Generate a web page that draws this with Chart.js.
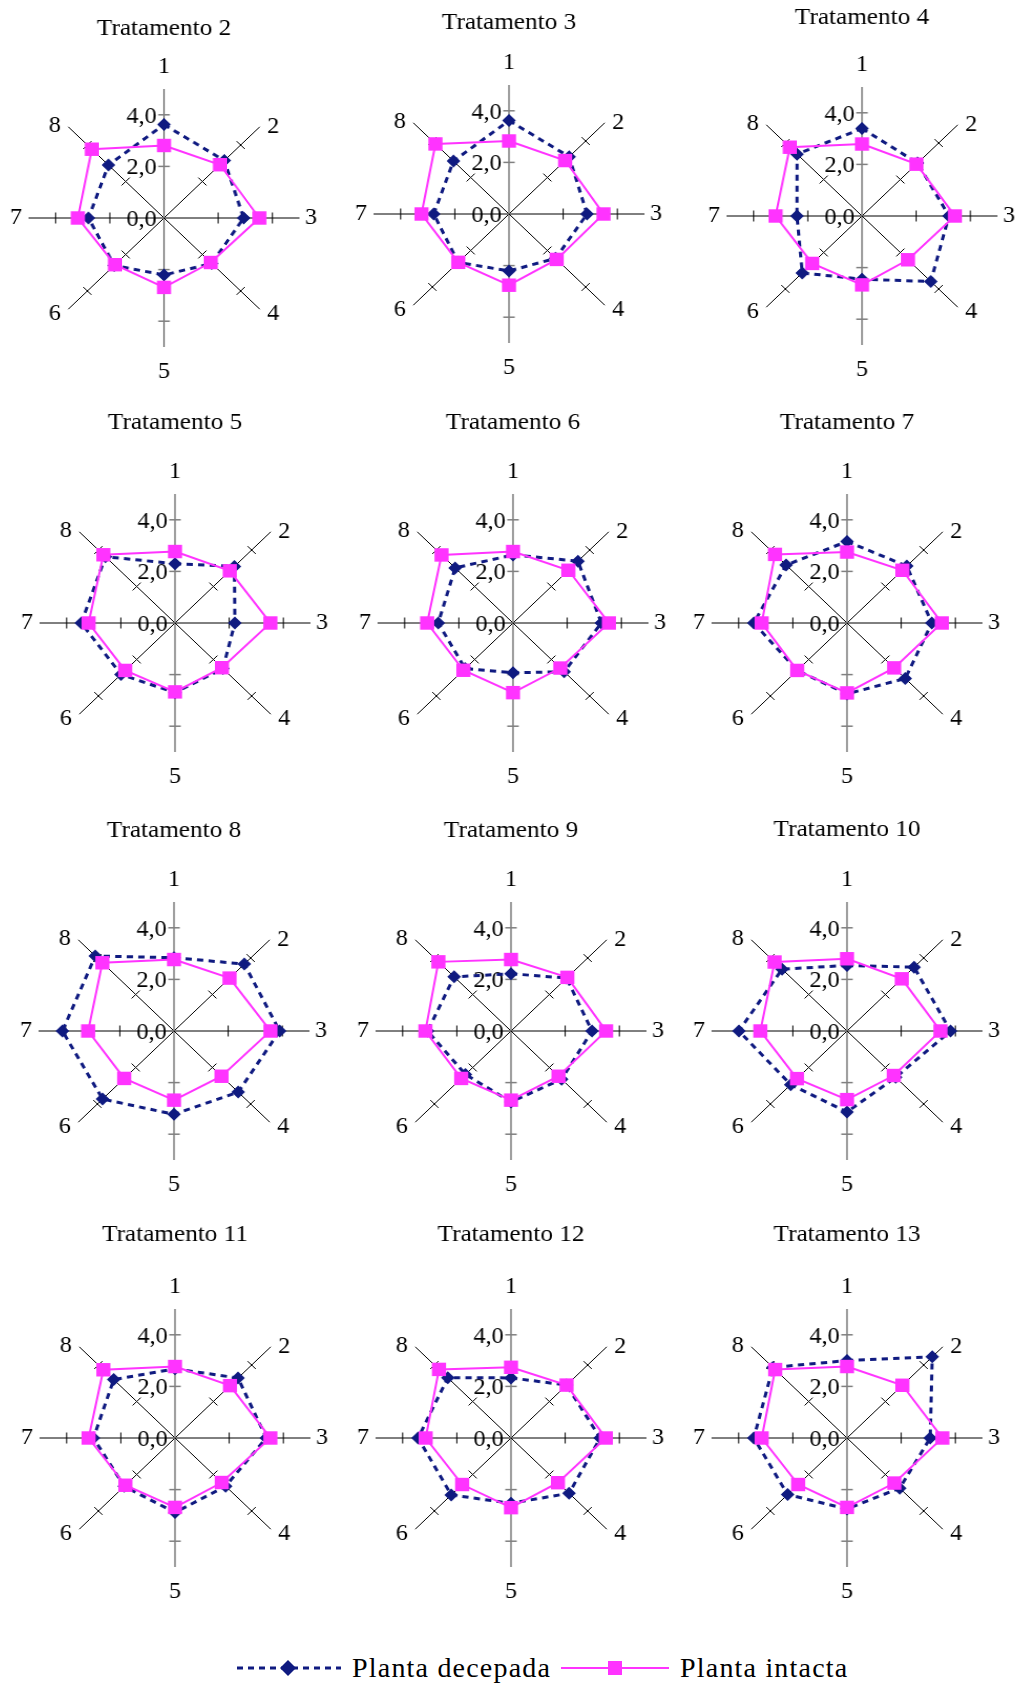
<!DOCTYPE html>
<html>
<head>
<meta charset="utf-8">
<script src="https://cdn.jsdelivr.net/npm/chart.js@4.4.1/dist/chart.umd.min.js"></script>
<style>
html,body{margin:0;padding:0;background:#fff;}
body{width:1025px;height:1686px;position:relative;overflow:hidden;font-family:"Liberation Serif","Times New Roman",serif;}
canvas.radar{position:absolute;transform:scaleX(1.05);transform-origin:50% 50%;}
.legtxt{position:absolute;font-family:"Liberation Serif",serif;font-size:28px;line-height:30px;letter-spacing:1.2px;color:#000;white-space:nowrap;}
.legsw{position:absolute;}
</style>
</head>
<body>
<script>
// ---------- DATA ----------
const categories = ['1', '2', '3', '4', '5', '6', '7', '8'];
const treatmentNames = ['Tratamento 2', 'Tratamento 3', 'Tratamento 4', 'Tratamento 5', 'Tratamento 6', 'Tratamento 7',
  'Tratamento 8', 'Tratamento 9', 'Tratamento 10', 'Tratamento 11', 'Tratamento 12', 'Tratamento 13'];
const seriesNames = ['Planta decepada', 'Planta intacta'];
const tickValues = [0, 2, 4];
const tickLabels = ['0,0', '2,0', '4,0'];

const t2Decepada  = [3.62, 3.15, 2.94, 2.49, 2.21, 2.60, 2.79, 2.90];
const t2Intacta   = [2.81, 2.92, 3.52, 2.44, 2.69, 2.56, 3.18, 3.77];
const t3Decepada  = [3.62, 3.14, 2.88, 2.43, 2.21, 2.65, 2.78, 2.90];
const t3Intacta   = [2.83, 2.93, 3.49, 2.49, 2.76, 2.65, 3.23, 3.84];
const t4Decepada  = [3.39, 2.90, 3.21, 3.59, 2.45, 3.12, 2.40, 3.39];
const t4Intacta   = [2.79, 2.84, 3.43, 2.40, 2.67, 2.60, 3.19, 3.77];
const t5Decepada  = [2.30, 3.10, 2.21, 2.50, 2.70, 2.82, 3.46, 3.63];
const t5Intacta   = [2.77, 2.86, 3.52, 2.45, 2.67, 2.60, 3.19, 3.74];
const t6Decepada  = [2.64, 3.39, 3.26, 2.67, 1.93, 2.50, 2.76, 3.02];
const t6Intacta   = [2.77, 2.89, 3.54, 2.47, 2.70, 2.59, 3.17, 3.73];
const t7Decepada  = [3.16, 3.12, 3.13, 3.04, 2.75, 2.60, 3.44, 3.18];
const t7Intacta   = [2.75, 2.89, 3.50, 2.46, 2.71, 2.60, 3.15, 3.76];
const t8Decepada  = [2.84, 3.67, 3.90, 3.35, 3.23, 3.73, 4.12, 4.11];
const t8Intacta   = [2.77, 2.90, 3.56, 2.48, 2.68, 2.60, 3.17, 3.74];
const t9Decepada  = [2.22, 2.90, 2.99, 2.64, 2.75, 2.38, 3.08, 2.97];
const t9Intacta   = [2.77, 2.94, 3.51, 2.48, 2.68, 2.60, 3.16, 3.79];
const t10Decepada = [2.54, 3.50, 3.82, 2.54, 3.14, 2.94, 3.99, 3.39];
const t10Intacta  = [2.80, 2.86, 3.45, 2.44, 2.66, 2.61, 3.20, 3.78];
const t11Decepada = [2.68, 3.29, 3.37, 2.64, 2.89, 2.65, 3.01, 3.20];
const t11Intacta  = [2.77, 2.87, 3.52, 2.44, 2.69, 2.59, 3.19, 3.74];
const t12Decepada = [2.33, 2.90, 3.29, 3.03, 2.53, 3.12, 3.43, 3.30];
const t12Intacta  = [2.74, 2.90, 3.50, 2.45, 2.70, 2.55, 3.15, 3.76];
const t13Decepada = [3.00, 4.45, 3.07, 2.75, 2.75, 3.10, 3.44, 3.87];
const t13Intacta  = [2.77, 2.89, 3.52, 2.47, 2.69, 2.55, 3.15, 3.75];

const decepadaSeries = [t2Decepada, t3Decepada, t4Decepada, t5Decepada, t6Decepada, t7Decepada,
  t8Decepada, t9Decepada, t10Decepada, t11Decepada, t12Decepada, t13Decepada];
const intactaSeries = [t2Intacta, t3Intacta, t4Intacta, t5Intacta, t6Intacta, t7Intacta,
  t8Intacta, t9Intacta, t10Intacta, t11Intacta, t12Intacta, t13Intacta];

// ---------- LAYOUT / STYLE ----------
const PANELS = [
  {cx: 164, cy: 218, T: 189}, {cx: 509, cy: 214, T: 191}, {cx: 862, cy: 216, T: 198},
  {cx: 175, cy: 623, T: 200}, {cx: 513, cy: 623, T: 200}, {cx: 847, cy: 623, T: 200},
  {cx: 174, cy: 1031, T: 200}, {cx: 511, cy: 1031, T: 200}, {cx: 847, cy: 1031, T: 201},
  {cx: 175, cy: 1438, T: 203}, {cx: 511, cy: 1438, T: 203}, {cx: 847, cy: 1438, T: 203}
];
const R = 129;             // radius (px) for the scale max
const CW = 330;            // canvas width (unstretched)
const SIDE = (CW - 2 * R) / 2;
const BOTTOM = 48;
const NAVY = '#0f1a80';
const MAGENTA = '#ff33ff';
const GRAY = '#808080';
const FONT = '"Liberation Serif", "Times New Roman", serif';
const LABEL_OFF = [[0, -151], [104, -91], [140, 0], [104, 96], [0, 154], [-104, 96], [-141, 0], [-104, -92]];
const TICK = 5.5;

const spokeDecor = {
  id: 'spokeDecor',
  beforeDatasetsDraw(chart) {
    const s = chart.scales.r;
    const ctx = chart.ctx;
    const n = chart.data.labels.length;
    ctx.save();
    for (let i = 0; i < n; i++) {
      const a = s.getIndexAngle(i) - Math.PI / 2;
      const px = -Math.sin(a), py = Math.cos(a);
      ctx.strokeStyle = (i % 4 === 0) ? GRAY : '#000';
      ctx.lineWidth = (i % 4 === 0) ? 1.5 : 1;
      tickValues.forEach(v => {
        if (v === 0) return;
        const p = s.getPointPositionForValue(i, v);
        ctx.beginPath();
        ctx.moveTo(p.x - px * TICK, p.y - py * TICK);
        ctx.lineTo(p.x + px * TICK, p.y + py * TICK);
        ctx.stroke();
      });
    }
    ctx.fillStyle = '#000';
    ctx.font = '23px ' + FONT;
    ctx.textAlign = 'right';
    ctx.textBaseline = 'middle';
    tickValues.forEach((v, k) => {
      const p = s.getPointPositionForValue(0, v);
      ctx.fillText(tickLabels[k], p.x - 7, p.y + 2);
    });
    ctx.textAlign = 'center';
    chart.data.labels.forEach((lab, i) => {
      ctx.fillText(lab, s.xCenter + LABEL_OFF[i][0], s.yCenter + LABEL_OFF[i][1]);
    });
    ctx.restore();
  }
};

PANELS.forEach((pn, k) => {
  const H = pn.T + 15 + R + BOTTOM;
  const cv = document.createElement('canvas');
  cv.className = 'radar';
  cv.width = CW;
  cv.height = H;
  cv.style.left = (pn.cx - CW / 2) + 'px';
  cv.style.top = (pn.cy - pn.T - 15) + 'px';
  document.body.appendChild(cv);
  new Chart(cv, {
    type: 'radar',
    data: {
      labels: categories,
      datasets: [
        {
          label: seriesNames[0], data: decepadaSeries[k], order: 1,
          borderColor: NAVY, backgroundColor: NAVY, borderWidth: 3, borderDash: [6, 5], fill: false,
          pointStyle: 'rectRot', pointRadius: 6.5, pointBackgroundColor: NAVY, pointBorderColor: NAVY, pointBorderWidth: 0
        },
        {
          label: seriesNames[1], data: intactaSeries[k], order: 0,
          borderColor: MAGENTA, backgroundColor: MAGENTA, borderWidth: 2, fill: false,
          pointStyle: 'rect', pointRadius: 9.5, pointBackgroundColor: MAGENTA, pointBorderColor: MAGENTA, pointBorderWidth: 0
        }
      ]
    },
    options: {
      responsive: false,
      animation: false,
      events: [],
      devicePixelRatio: 1,
      layout: {padding: {left: SIDE, right: SIDE, top: 0, bottom: BOTTOM}},
      plugins: {
        legend: {display: false},
        tooltip: {enabled: false},
        title: {
          display: true, text: treatmentNames[k], color: '#000',
          font: {family: FONT, size: 24, weight: 'normal', lineHeight: 1.25},
          padding: {top: 0, bottom: pn.T - 15 - R}
        }
      },
      scales: {
        r: {
          min: 0, max: 5,
          ticks: {display: false, stepSize: 2, includeBounds: false},
          grid: {display: false},
          angleLines: {
            display: true,
            color: c => (c.index % 4 === 0 ? GRAY : '#000'),
            lineWidth: c => (c.index % 4 === 0 ? 1.5 : 1)
          },
          pointLabels: {display: false}
        }
      }
    },
    plugins: [spokeDecor]
  });
});

// ---------- LEGEND ----------
function addLegend() {
  const ns = 'http://www.w3.org/2000/svg';
  const mk = (left, w) => {
    const svg = document.createElementNS(ns, 'svg');
    svg.setAttribute('width', w); svg.setAttribute('height', 30);
    svg.setAttribute('class', 'legsw');
    svg.style.left = left + 'px'; svg.style.top = '1653px';
    document.body.appendChild(svg);
    return svg;
  };
  const s1 = mk(235, 108);
  const l1 = document.createElementNS(ns, 'line');
  l1.setAttribute('x1', 2); l1.setAttribute('x2', 106); l1.setAttribute('y1', 15); l1.setAttribute('y2', 15);
  l1.setAttribute('stroke', NAVY); l1.setAttribute('stroke-width', 3); l1.setAttribute('stroke-dasharray', '6 5');
  s1.appendChild(l1);
  const d1 = document.createElementNS(ns, 'polygon');
  d1.setAttribute('points', '53,7 61,15 53,23 45,15');
  d1.setAttribute('fill', NAVY);
  s1.appendChild(d1);
  const t1 = document.createElement('div');
  t1.className = 'legtxt'; t1.textContent = seriesNames[0];
  t1.style.left = '352px'; t1.style.top = '1653px';
  document.body.appendChild(t1);

  const s2 = mk(559, 112);
  const l2 = document.createElementNS(ns, 'line');
  l2.setAttribute('x1', 2); l2.setAttribute('x2', 110); l2.setAttribute('y1', 15); l2.setAttribute('y2', 15);
  l2.setAttribute('stroke', MAGENTA); l2.setAttribute('stroke-width', 2);
  s2.appendChild(l2);
  const q2 = document.createElementNS(ns, 'rect');
  q2.setAttribute('x', 49); q2.setAttribute('y', 8); q2.setAttribute('width', 14); q2.setAttribute('height', 14);
  q2.setAttribute('fill', MAGENTA);
  s2.appendChild(q2);
  const t2 = document.createElement('div');
  t2.className = 'legtxt'; t2.textContent = seriesNames[1];
  t2.style.left = '680px'; t2.style.top = '1653px';
  document.body.appendChild(t2);
}
addLegend();
</script>
</body>
</html>
